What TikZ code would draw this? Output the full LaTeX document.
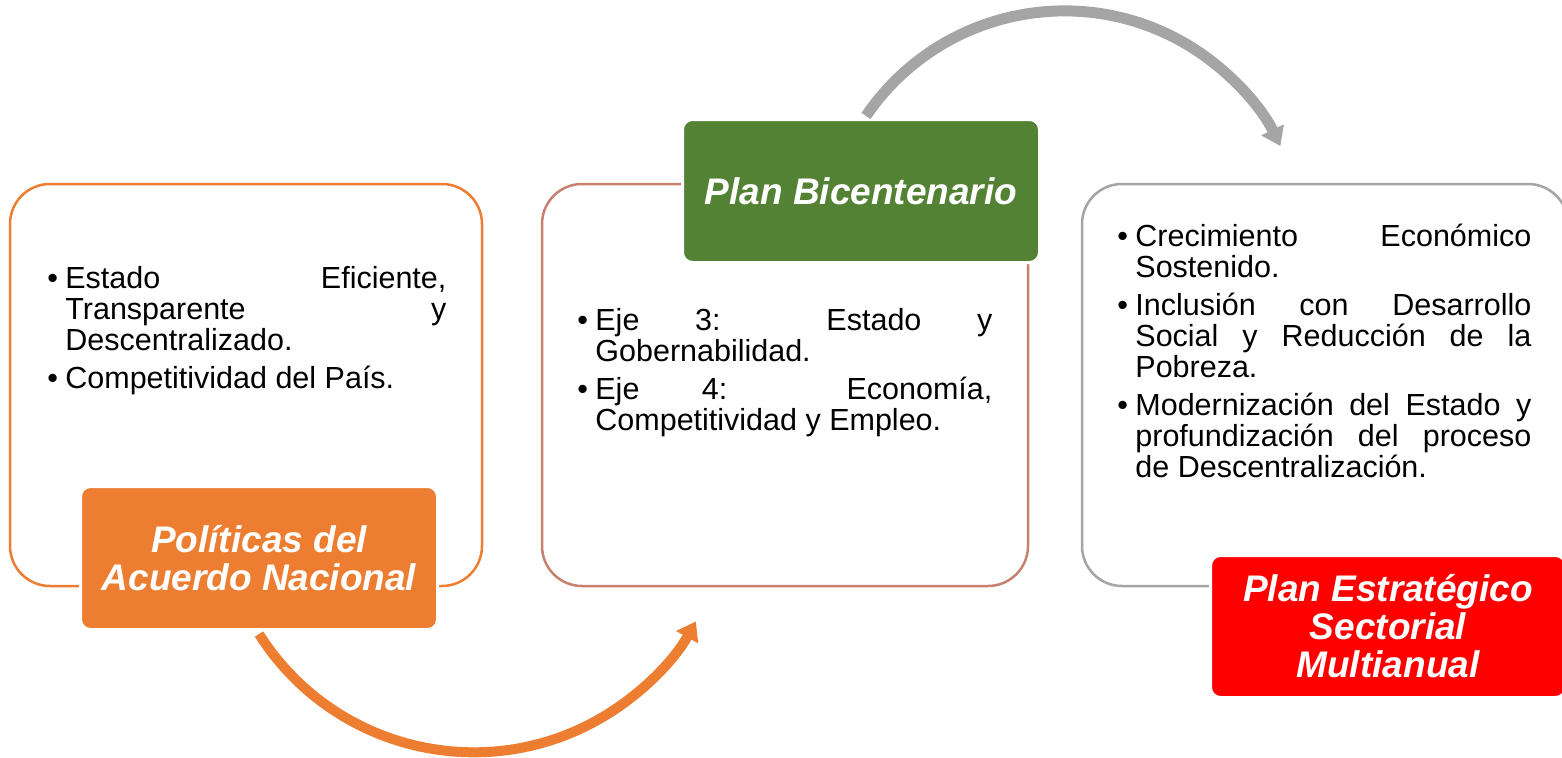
\documentclass[tikz,border=0pt]{standalone}
\usepackage{fontspec}
\setmainfont{Liberation Sans}
\usetikzlibrary{arrows.meta}
\definecolor{naranja}{HTML}{ED7D31}
\definecolor{verde}{HTML}{548235}
\definecolor{rojo}{HTML}{FF0000}
\definecolor{gris}{HTML}{A5A5A5}
\definecolor{salmon}{HTML}{C8816F}
\newcommand\itm[1]{\hangindent=7.5pt\hangafter=1\noindent\makebox[7.5pt][l]{\hspace{-1.5pt}\textbullet}#1\par}
\tikzset{x=0.5pt, y=0.5pt,
    panel/.style={draw=#1, fill=white, line width=1.25pt, rounded corners=20pt,
        minimum height=201pt, inner sep=0pt},
    rotulo/.style={fill=#1, draw=white, line width=1.5pt, rounded corners=5pt,
        text=white, align=center, inner sep=0pt, minimum width=178.5pt,
        minimum height=71.5pt, font=\bfseries\itshape\fontsize{18.5pt}{19pt}\selectfont},
    lista/.style={anchor=base west, inner sep=0pt, align=justify, text width=#1,
        font=\fontsize{15.25pt}{15.5pt}\selectfont,
        execute at begin node={\tolerance=10000 \hyphenpenalty=10000 \parskip=3.5pt}},
    flecha/.style={draw=#1, line width=5pt, -{Triangle[width=12pt,length=9pt]}},
    }

\begin{document}
\begin{tikzpicture}
\useasboundingbox (0,0) rectangle (1562,757);
\clip (0,0) rectangle (1562,757);
% recuadros
\node[panel=naranja, minimum width=236pt] (caja1) at (246,372) {};
\node[panel=salmon, minimum width=243pt] (caja2) at (785,372) {};
\node[panel=gris, minimum width=243pt] (caja3) at (1325,372) {};
% textos
\node[lista=198pt] (txt1) at (50,469) {%
    \itm{Estado Eficiente,\linebreak Transparente y\linebreak Descentralizado.}%
    \itm{Competitividad del País.}};
\node[lista=206pt] (txt2) at (580,427) {%
    \itm{Eje 3: Estado y\linebreak Gobernabilidad.}%
    \itm{Eje 4: Economía,\linebreak Competitividad y Empleo.}};
\node[lista=205.5pt] (txt3) at (1120,511) {%
    \itm{Crecimiento Económico\linebreak Sostenido.}%
    \itm{Inclusión con Desarrollo\linebreak Social y Reducción de la\linebreak Pobreza.}%
    \itm{Modernización del Estado y\linebreak profundización del proceso\linebreak de Descentralización.}};
% rotulos
\node[rotulo=naranja] (rot1) at (259,199) {Políticas del\\Acuerdo Nacional};
\node[rotulo=verde] (rot2) at (861,566) {Plan Bicentenario};
\node[rotulo=rojo, minimum width=177.5pt, minimum height=71pt] (rot3) at (1388,130.5)
    {Plan Estratégico\\Sectorial\\Multianual};
% flechas
\draw[flecha=naranja] ([yshift=-1.5pt]rot1.south) arc[start angle=212.3, end angle=331, radius=127pt];
\draw[flecha=gris, line width=5.5pt] ([xshift=2.5pt,yshift=1pt]rot2.north) arc[start angle=145.8, end angle=25.9, radius=120pt];
\end{tikzpicture}
\end{document}
